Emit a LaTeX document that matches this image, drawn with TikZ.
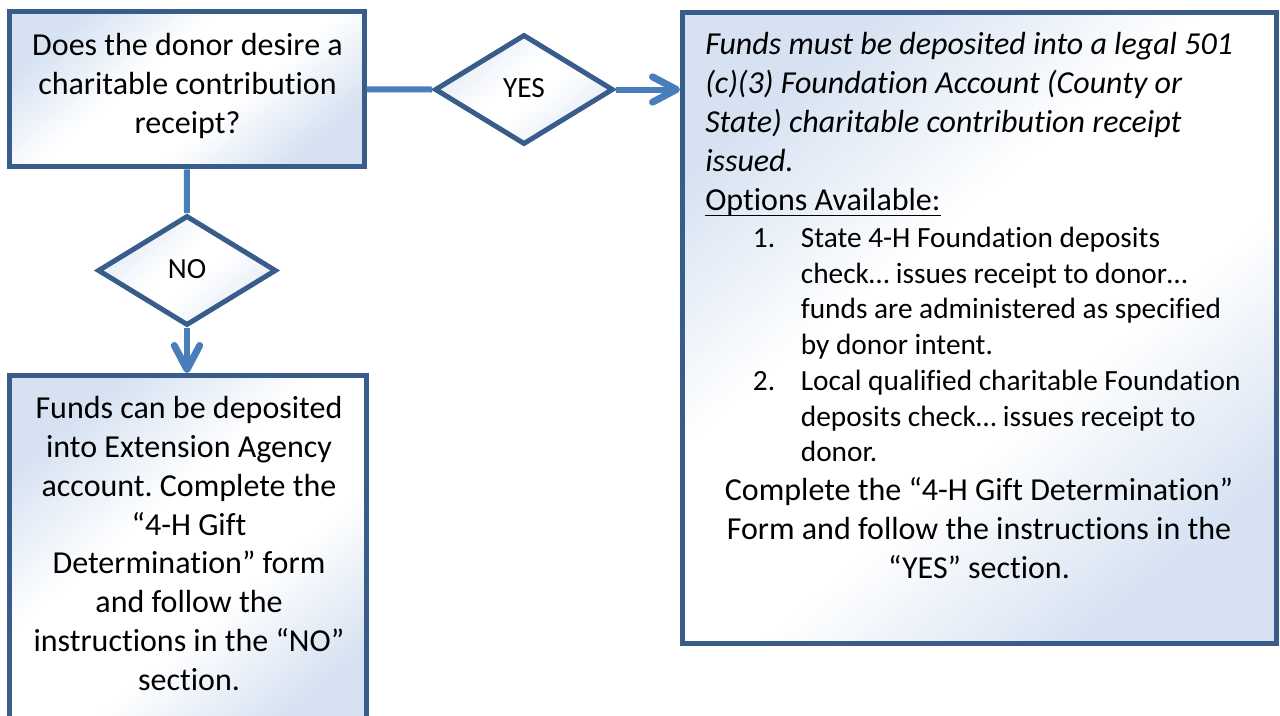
\documentclass[tikz,border=0pt]{standalone}
\usepackage{fontspec}
\setmainfont{Carlito}[Ligatures=NoCommon]
\usetikzlibrary{shapes.geometric,arrows.meta}
\definecolor{bordblue}{RGB}{56,93,138}
\definecolor{connblue}{RGB}{74,126,187}
\definecolor{fillblue}{RGB}{214,226,242}
\definecolor{dfillblue}{RGB}{226,234,246}
\pgfdeclareverticalshading{boxshade}{100bp}{color(0bp)=(fillblue); color(25bp)=(fillblue); color(42bp)=(white); color(58bp)=(white); color(75bp)=(fillblue); color(100bp)=(fillblue)}
\pgfdeclareverticalshading{diashade}{100bp}{color(0bp)=(dfillblue); color(25bp)=(dfillblue); color(45bp)=(white); color(55bp)=(white); color(75bp)=(dfillblue); color(100bp)=(dfillblue)}
\tikzset{
  box/.style={draw=bordblue, line width=3.75pt, rectangle, inner sep=0pt,
    shade, shading=boxshade, shading angle=40},
  dia/.style={draw=bordblue, line width=3.75pt, diamond, inner sep=0pt,
    minimum width=134pt, minimum height=82.5pt,
    shade, shading=diashade, shading angle=40,
    font=\fontsize{22}{24}\selectfont},
  conn/.style={draw=connblue, line width=4.5pt},
  arr/.style={conn, -{Straight Barb[length=18pt,width=19pt,line width=5.25pt,round]}},
  txt/.style={inner sep=0pt, anchor=base, font=\fontsize{24}{28}\selectfont},
  txtl/.style={txt, anchor=base west},
  txti/.style={txtl, font=\fontsize{24}{28}\selectfont\itshape},
  lst/.style={txtl, font=\fontsize{22}{26}\selectfont},
}
\begin{document}
\frenchspacing
\begin{tikzpicture}[x=0.75pt,y=-0.75pt]
\useasboundingbox (0,0) rectangle (1280,715);
\clip (0,0) rectangle (1280,715);
% boxes
\node[box, minimum width=265.9pt, minimum height=116.6pt] (q) at (186.75,89.25) {};
\node[box, minimum width=445.1pt, minimum height=473.25pt] (r) at (979.25,327.5) {};
\node[box, minimum width=267.75pt, minimum height=277.5pt] (n) at (188,560.5) {};
% diamonds
\node[dia] (yes) at (524,89.5) {\raisebox{3pt}{YES}};
\node[dia] (no) at (187,270.5) {\raisebox{3pt}{NO}};
% connectors
\draw[conn] (q.east) -- (yes.west);
\draw[arr] (yes.east) -- (yes.east -| r.west);
\draw[conn] (q.south) -- (no.north);
\draw[arr] (no.south) -- (no.south |- n.north);
% question text
\node[txt] (q1) at (187.5,55) {Does the donor desire a};
\node[txt] (q2) at (187.5,94) {charitable contribution};
\node[txt] (q3) at (187.5,133) {receipt?};
% NO text
\node[txt] (n1) at (189,418) {Funds can be deposited};
\node[txt] (n2) at (189,457) {into Extension Agency};
\node[txt] (n3) at (189,496) {account. Complete the};
\node[txt] (n4) at (189,535) {“4-H Gift};
\node[txt] (n5) at (189,573.5) {Determination” form};
\node[txt] (n6) at (189,612.5) {and follow the};
\node[txt] (n7) at (189,651.5) {instructions in the “NO”};
\node[txt] (n8) at (189,690) {section.};
% YES text
\node[txti] (r1) at (705,54.7) {Funds must be deposited into a legal 501};
\node[txti] (r2) at (705,93.5) {(c)(3) Foundation Account (County or};
\node[txti] (r3) at (705,132.5) {State) charitable contribution receipt};
\node[txti] (r4) at (705,171.5) {issued.};
\node[txtl] (opt) at (705,210.5) {Options Available:};
\draw[line width=1.2pt] ([yshift=-3.8pt]opt.base west) -- ([yshift=-3.8pt]opt.base east);
\node[lst] (l1) at (752.7,247.5) {1.};
\node[lst] (l1a) at (800.6,247.5) {State 4-H Foundation deposits};
\node[lst] (l1b) at (800.6,283) {check… issues receipt to donor…};
\node[lst] (l1c) at (800.6,318.5) {funds are administered as specified};
\node[lst] (l1d) at (800.6,354) {by donor intent.};
\node[lst] (l2) at (752.7,390.5) {2.};
\node[lst] (l2a) at (800.6,390.5) {Local qualified charitable Foundation};
\node[lst] (l2b) at (800.6,426) {deposits check… issues receipt to};
\node[lst] (l2c) at (800.6,461.5) {donor.};
\node[txt] (c1) at (979,500) {Complete the “4-H Gift Determination”};
\node[txt] (c2) at (979,539) {Form and follow the instructions in the};
\node[txt] (c3) at (979,578) {“YES” section.};
\end{tikzpicture}
\end{document}
